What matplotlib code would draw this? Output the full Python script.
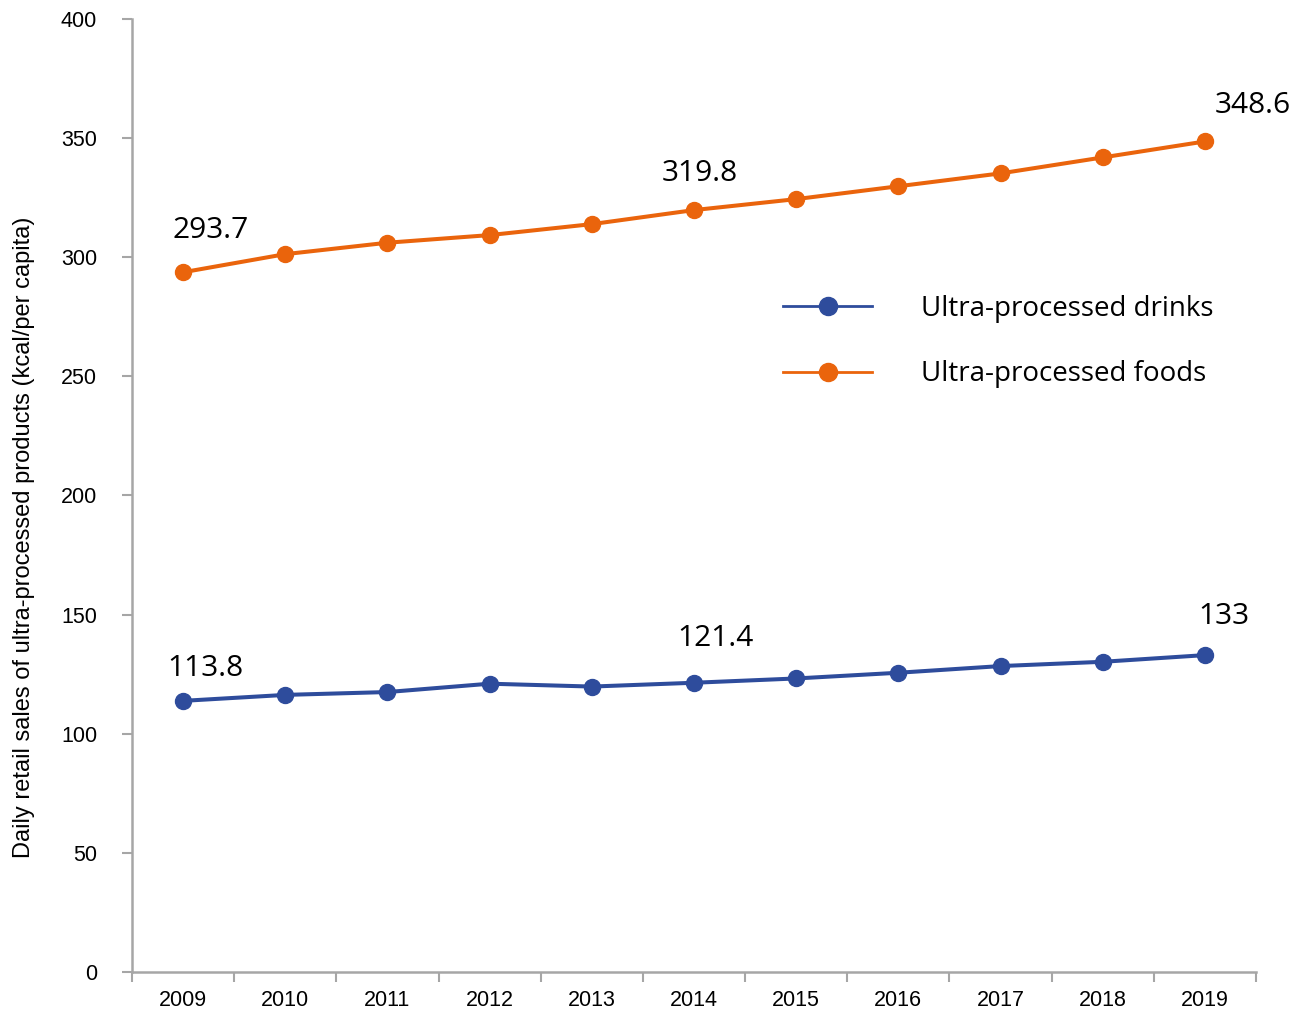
import matplotlib.pyplot as plt

# yearly retail sales, kcal per capita per day
years = ['2009', '2010', '2011', '2012', '2013', '2014',
         '2015', '2016', '2017', '2018', '2019']
drinks = [113.8, 116.3, 117.5, 121.0, 119.8, 121.4, 123.2, 125.6, 128.4, 130.2, 133.0]
foods = [293.7, 301.3, 306.1, 309.3, 313.9, 319.8, 324.4, 329.8, 335.2, 341.9, 348.6]

# which points get a value label, and the label offset in pixels
drink_labels = {0: (22, 32), 5: (22, 44), 10: (19, 39)}
food_labels = {0: (28, 42), 5: (6, 37), 10: (48, 36)}

blue = '#2e4c9c'
orange = '#ea640c'
grey = '#a6a6a6'

plt.rcParams['font.family'] = ['Open Sans', 'DejaVu Sans']

fig = plt.figure(figsize=(13.04, 10.11), dpi=100)
ax = fig.add_axes([0.1012, 0.0386, 0.862, 0.9426])

x = list(range(len(years)))
ax.plot(x, drinks, color=blue, lw=2.9, marker='o', ms=11.5, label='Ultra-processed drinks')
ax.plot(x, foods, color=orange, lw=2.9, marker='o', ms=11.5, label='Ultra-processed foods')

px = 72 / 100  # pixels to points
for series, labels in ((drinks, drink_labels), (foods, food_labels)):
    for i, (dx, dy) in labels.items():
        ax.annotate('{:g}'.format(series[i]), (x[i], series[i]),
                    xytext=(dx * px, dy * px), textcoords='offset points',
                    ha='center', va='center', fontsize=21.5)

ax.set_xlim(-0.5, len(years) - 0.5)
ax.set_ylim(0, 400)
ax.set_yticks(range(0, 401, 50))

# category axis: ticks sit between the years, labels in the middle
ax.set_xticks([i - 0.5 for i in range(len(years) + 1)])
ax.set_xticklabels([])
ax.set_xticks(x, minor=True)
ax.set_xticklabels(years, minor=True, fontfamily='Liberation Sans', fontsize=15.5)
ax.tick_params(axis='x', which='minor', length=0, pad=13)
ax.tick_params(axis='x', which='major', length=7, width=1.5, color=grey, direction='out')
ax.tick_params(axis='y', length=7, width=1.5, color=grey, direction='out', labelsize=15.5, pad=18)
for lab in ax.get_yticklabels():
    lab.set_fontfamily('Liberation Sans')

for side in ('top', 'right'):
    ax.spines[side].set_visible(False)
for side in ('left', 'bottom'):
    ax.spines[side].set_color(grey)
    ax.spines[side].set_linewidth(1.8)

ax.set_ylabel('Daily retail sales of ultra-processed products (kcal/per capita)',
              fontsize=17, fontfamily='Liberation Sans')
ax.yaxis.set_label_coords(-0.086, 0.456)

leg = ax.legend(loc='upper left', bbox_to_anchor=(0.557, 0.737), frameon=False,
                fontsize=20, handlelength=3.2, handletextpad=1.75, labelspacing=1.36)
for h in leg.legend_handles:
    h.set_linewidth(2)
    h.set_markersize(13)

fig.savefig('out.png', dpi=100)
